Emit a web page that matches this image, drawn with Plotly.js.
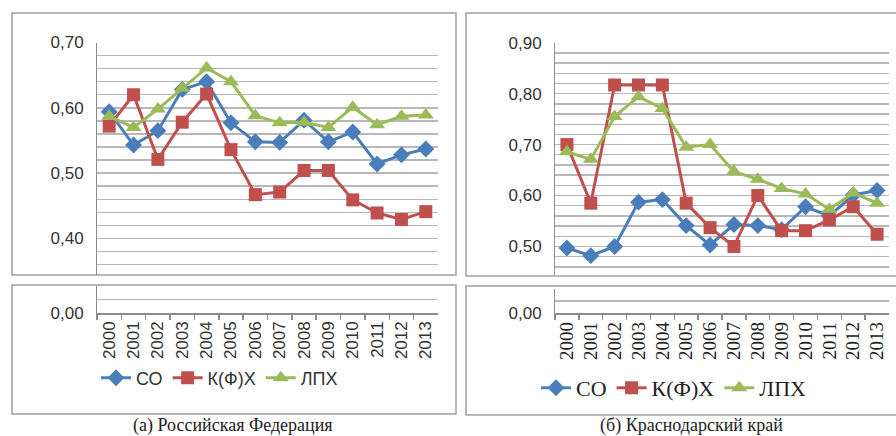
<!DOCTYPE html>
<html><head><meta charset="utf-8">
<script src="https://cdn.plot.ly/plotly-3.0.1.min.js"></script>
<style>html,body{margin:0;padding:0;background:#fff}</style>
</head><body><div id="chart" style="width:896px;height:436px"></div>
<script>
const years = ['2000','2001','2002','2003','2004','2005','2006','2007','2008','2009','2010','2011','2012','2013'];
const seriesNames = ['СО','К(Ф)Х','ЛПХ'];
// (а) Российская Федерация
const rfSO   = [0.594,0.543,0.565,0.628,0.640,0.577,0.548,0.547,0.581,0.548,0.563,0.514,0.528,0.537];
const rfKFH  = [0.572,0.620,0.521,0.578,0.621,0.536,0.467,0.471,0.504,0.504,0.459,0.439,0.429,0.441];
const rfLPH  = [0.587,0.570,0.598,0.630,0.661,0.640,0.588,0.577,0.578,0.570,0.601,0.574,0.587,0.589];
// (б) Краснодарский край
const kkSO   = [0.497,0.482,0.500,0.587,0.592,0.541,0.503,0.543,0.541,0.533,0.578,0.560,0.601,0.610];
const kkKFH  = [0.700,0.585,0.817,0.817,0.817,0.585,0.537,0.500,0.600,0.531,0.531,0.552,0.578,0.524];
const kkLPH  = [0.686,0.671,0.755,0.794,0.771,0.695,0.700,0.647,0.632,0.614,0.603,0.573,0.605,0.585];
const captions = ['(а) Российская Федерация','(б) Краснодарский край'];
// axis gridlines and labelled ticks
const rfGrid  = [0.36,0.38,0.40,0.42,0.44,0.46,0.48,0.50,0.52,0.54,0.56,0.58,0.60,0.62,0.64,0.66,0.68,0.70];
const rfTicks = [0.40,0.50,0.60,0.70];
const kkGrid  = [0.46,0.48,0.50,0.52,0.54,0.56,0.58,0.60,0.62,0.64,0.66,0.68,0.70,0.72,0.74,0.76,0.78,0.80,0.82,0.84,0.86,0.88,0.90];
const kkTicks = [0.50,0.60,0.70,0.80,0.90];
const lowGrid  = [0,0.01,0.02];
const lowTicks = [0];

const W=896,H=436;
const px=v=>v/W, py=v=>1-v/H;
const colors=['#4A7EBB','#C0504D','#9BBB59'];
const symbols=['diamond','square','triangle-up'];
const msize=[13,13,14];
const sans='Liberation Sans, Arial, sans-serif';
const serif='Liberation Serif, Times New Roman, serif';
const axisCol='#8c8c8c', gridCol='#b8b8b8';
const lbl=(grid,ticks)=>grid.map(v=>ticks.some(t=>Math.abs(t-v)<1e-9)?v.toFixed(2).replace('.',',')+'\u2002':'');

const traces=[];
function addSeries(vals, i, xa, ya, legend){
  traces.push({x:years,y:vals,type:'scatter',mode:'lines+markers',name:seriesNames[i],
    xaxis:xa,yaxis:ya,legend:legend,
    line:{color:colors[i],width:3},
    marker:{symbol:symbols[i],size:msize[i],color:colors[i]},cliponaxis:false});
}
function carrier(xa,ya){
  traces.push({x:years,y:years.map(()=>null),xaxis:xa,yaxis:ya,type:'scatter',mode:'lines',showlegend:false,hoverinfo:'skip'});
}
addSeries(rfSO,0,'x','y','legend');
addSeries(rfKFH,1,'x','y','legend');
addSeries(rfLPH,2,'x','y','legend');
addSeries(kkSO,0,'x3','y3','legend2');
addSeries(kkKFH,1,'x3','y3','legend2');
addSeries(kkLPH,2,'x3','y3','legend2');
carrier('x2','y2'); carrier('x4','y4');

function yAxis(dom, range, anchor, grid, ticks){
  return {domain:dom,range:range,anchor:anchor,tickvals:grid,ticktext:lbl(grid,ticks),
    showline:true,linecolor:axisCol,linewidth:1.5,ticks:'',
    showgrid:true,gridcolor:gridCol,gridwidth:1.4,zeroline:false,
    tickfont:{family:sans,size:17,color:'#333'}};
}
function upperX(dom, anchor){
  return {domain:dom,anchor:anchor,type:'category',range:[-0.5,13.5],showticklabels:false,showgrid:false,showline:false,ticks:'',zeroline:false};
}
function lowerX(dom, anchor, font){
  return {domain:dom,anchor:anchor,type:'category',range:[-0.5,13.5],showgrid:false,zeroline:false,
    showline:true,linecolor:axisCol,linewidth:1.5,ticks:'outside',tickson:'boundaries',ticklen:5,tickcolor:axisCol,tickwidth:1.5,
    tickangle:-90,tickfont:font};
}

const box=(x0,y0,x1,y1)=>({type:'rect',xref:'paper',yref:'paper',x0:px(x0),x1:px(x1),y0:py(y1),y1:py(y0),
  line:{color:'#a0a0a0',width:1.5},fillcolor:'rgba(0,0,0,0)',layer:'below'});

const rfRange=[0.344,0.70], kkRange=[0.444,0.90], lowRange=[0,0.02];
const layout={
  width:W,height:H,margin:{l:0,r:0,t:0,b:0},paper_bgcolor:'#fff',plot_bgcolor:'rgba(0,0,0,0)',
  hovermode:false,
  xaxis:upperX([px(97),px(438)],'y'),
  yaxis:yAxis([py(275),py(42.5)],rfRange,'x',rfGrid,rfTicks),
  xaxis2:lowerX([px(97),px(438)],'y2',{family:sans,size:17,color:'#333'}),
  yaxis2:yAxis([py(313),py(286)],lowRange,'x2',lowGrid,lowTicks),
  xaxis3:upperX([px(555),px(889)],'y3'),
  yaxis3:yAxis([py(275),py(42.7)],kkRange,'x3',kkGrid,kkTicks),
  xaxis4:lowerX([px(555),px(889)],'y4',{family:serif,size:19,color:'#222'}),
  yaxis4:yAxis([py(313),py(289)],lowRange,'x4',lowGrid,lowTicks),
  legend:{x:px(96),y:py(378),xanchor:'left',yanchor:'middle',orientation:'h',bgcolor:'rgba(0,0,0,0)',
    font:{family:sans,size:18,color:'#333'}},
  legend2:{x:px(536),y:py(388),xanchor:'left',yanchor:'middle',orientation:'h',bgcolor:'rgba(0,0,0,0)',
    font:{family:serif,size:22,color:'#222'}},
  shapes:[box(12,13,456,275),box(12,285,456,414),box(466,13,905,276),box(466,286,905,415)],
  annotations:[
    {text:captions[0],xref:'paper',yref:'paper',x:px(233),y:py(425),xanchor:'center',yanchor:'middle',showarrow:false,font:{family:serif,size:18,color:'#222'}},
    {text:captions[1],xref:'paper',yref:'paper',x:px(691),y:py(425),xanchor:'center',yanchor:'middle',showarrow:false,font:{family:serif,size:18,color:'#222'}}
  ]
};
Plotly.newPlot('chart',traces,layout,{staticPlot:true,displayModeBar:false});
</script></body></html>
